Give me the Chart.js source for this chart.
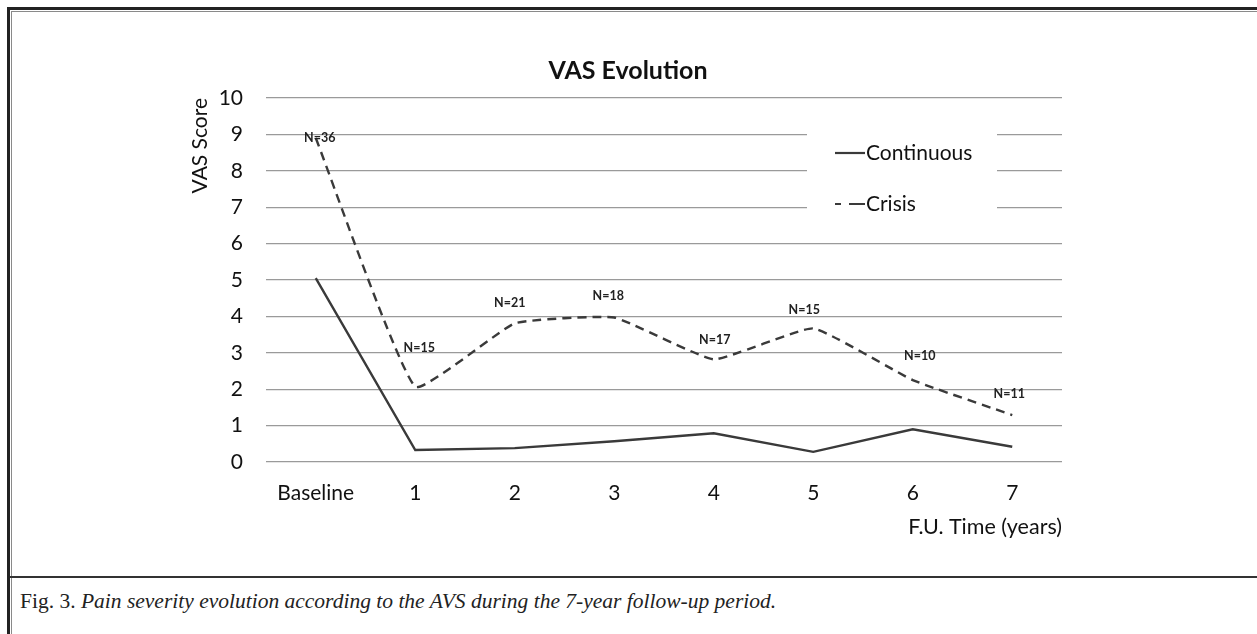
<!DOCTYPE html>
<html>
<head>
<meta charset="utf-8">
<script src="https://cdn.jsdelivr.net/npm/chart.js@4/dist/chart.umd.min.js"></script>
<style>
  body { margin: 0; background: #fff; width: 1257px; height: 634px; overflow: hidden; position: relative; }
  .frame { position: absolute; left: 7px; top: 7px; width: 1300px; height: 700px;
           border-top: 3px solid #222; border-left: 3px solid #222; }
  .frame-inner { position: absolute; left: 1px; top: 1px; right: 0; bottom: 0;
                 border-top: 1px solid #8a8a8a; border-left: 1px solid #8a8a8a; }
  .sep { position: absolute; left: 10px; top: 576px; width: 1260px; height: 2px; background: #333; }
  .caption { position: absolute; left: 20px; top: 589px; font-family: "Liberation Serif", serif;
             font-size: 21.5px; color: #222; white-space: nowrap; }
  .chart-box { position: absolute; left: 180px; top: 20px; width: 896px; height: 522px; }
</style>
</head>
<body>
<div class="frame"><div class="frame-inner"></div></div>
<div class="sep"></div>
<div class="caption">Fig. 3. <i>Pain severity evolution according to the AVS during the 7-year follow-up period.</i></div>
<div class="chart-box"><canvas id="vasChart"></canvas></div>
<script>
// values
const categories = ['Baseline', '1', '2', '3', '4', '5', '6', '7'];
const continuousVas = [5.05, 0.33, 0.38, 0.57, 0.79, 0.28, 0.9, 0.42];
const crisisVas = [8.9, 2.07, 3.81, 3.97, 2.82, 3.67, 2.25, 1.29];
const crisisN = ['N=36', 'N=15', 'N=21', 'N=18', 'N=17', 'N=15', 'N=10', 'N=11'];
const seriesNames = ['Continuous', 'Crisis'];

const FONT = 'Lato, "Open Sans", sans-serif';
const LINE_COLOR = '#3a3a3a';
const TEXT_COLOR = '#111';

// N= labels above the crisis points (pixel nudges per label)
const nLabelPlugin = {
    id: 'nLabels',
    afterDatasetsDraw(chart) {
        const offsets = [[4, 0], [4, -39], [-5, -20], [-6, -22], [1, -19], [-9, -18], [7, -24], [-3, -21]];
        const meta = chart.getDatasetMeta(1);
        const ctx = chart.ctx;
        ctx.save();
        ctx.font = 'bold 12.5px ' + FONT;
        ctx.fillStyle = '#222';
        ctx.textAlign = 'center';
        ctx.textBaseline = 'middle';
        meta.data.forEach((pt, i) => {
            const o = offsets[i] || [0, -20];
            ctx.fillText(crisisN[i], pt.x + o[0], pt.y + o[1]);
        });
        ctx.restore();
    }
};

// legend sits inside the plot on a white patch covering the grid
const insideLegend = {
    id: 'insideLegend',
    beforeDatasetsDraw(chart) {
        const ctx = chart.ctx;
        ctx.save();
        ctx.fillStyle = '#fff';
        ctx.fillRect(627, 100, 190, 115);
        ctx.strokeStyle = LINE_COLOR;
        ctx.lineWidth = 2.2;
        ctx.beginPath();
        ctx.moveTo(655, 133); ctx.lineTo(685, 133);
        ctx.stroke();
        ctx.beginPath();
        ctx.moveTo(655, 184); ctx.lineTo(661, 184);
        ctx.moveTo(669, 184); ctx.lineTo(685, 184);
        ctx.stroke();
        ctx.font = '21px ' + FONT;
        ctx.fillStyle = TEXT_COLOR;
        ctx.textBaseline = 'middle';
        ctx.fillText(seriesNames[0], 686, 133);
        ctx.fillText(seriesNames[1], 686, 184);
        ctx.restore();
    }
};

const chartData = {
    labels: categories,
    datasets: [{
        label: seriesNames[0],
        data: continuousVas,
        borderColor: LINE_COLOR,
        borderWidth: 2.4,
        pointRadius: 0,
        tension: 0,
        fill: false
    }, {
        label: seriesNames[1],
        data: crisisVas,
        borderColor: LINE_COLOR,
        borderWidth: 2.4,
        borderDash: [9, 6],
        pointRadius: 0,
        tension: 0.12,
        fill: false
    }]
};

const chartOptions = {
    responsive: true,
    maintainAspectRatio: false,
    animation: false,
    layout: { padding: { left: 14, right: 14, top: 0, bottom: 0 } },
    plugins: {
        legend: { display: false },
        tooltip: { enabled: false },
        title: {
            display: true,
            text: 'VAS Evolution',
            color: TEXT_COLOR,
            font: { family: FONT, size: 25, weight: 'bold' },
            padding: { top: 36, bottom: 12 }
        }
    },
    scales: {
        x: {
            offset: true,
            grid: { display: false, drawTicks: false },
            border: { display: false },
            ticks: { color: TEXT_COLOR, font: { family: FONT, size: 21 }, padding: 19, maxRotation: 0 },
            title: {
                display: true,
                text: 'F.U. Time (years)',
                align: 'end',
                color: TEXT_COLOR,
                font: { family: FONT, size: 21.5 },
                padding: { top: 0, bottom: 2 }
            },
            afterFit(scale) { scale.height = 80; }
        },
        y: {
            min: 0,
            max: 10,
            grid: { color: '#9a9a9a', lineWidth: 1.2, drawTicks: false },
            border: { display: false },
            ticks: { stepSize: 1, color: TEXT_COLOR, font: { family: FONT, size: 21 }, padding: 23 },
            title: {
                display: true,
                text: 'VAS Score',
                align: 'end',
                color: TEXT_COLOR,
                font: { family: FONT, size: 21 },
                padding: { top: -6.6, bottom: 0 }
            },
            afterFit(scale) { scale.width = 72; }
        }
    }
};

new Chart(document.getElementById('vasChart'), {
    type: 'line',
    data: chartData,
    options: chartOptions,
    plugins: [insideLegend, nLabelPlugin]
});
</script>
</body>
</html>
